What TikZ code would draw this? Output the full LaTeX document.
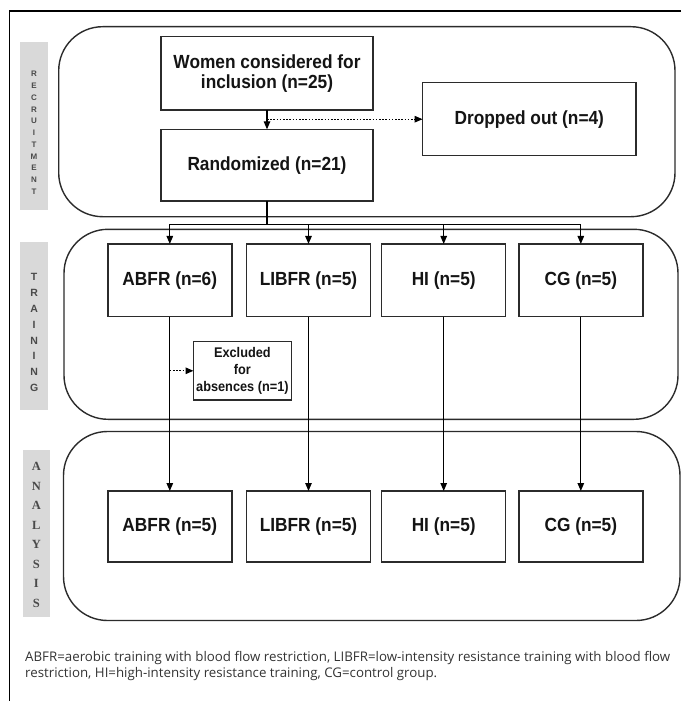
\documentclass[tikz,border=0pt]{standalone}
\usepackage{fontspec}
\setmainfont{Liberation Sans}
\newfontfamily\boxfont[FakeStretch=0.91]{Liberation Sans}
\newfontfamily\capfont{Open Sans}
\newfontfamily\serifbold{Liberation Serif}
\usetikzlibrary{arrows.meta}
\definecolor{barfill}{HTML}{D9D9D9}
\definecolor{lett}{HTML}{4A4A4A}
\definecolor{edge}{HTML}{2B2B2B}
\definecolor{captxt}{HTML}{333333}
\tikzset{
  grp/.style={draw=edge, line width=1.4pt, rounded corners=44pt, inner sep=0pt, outer sep=0pt},
  box/.style={draw=edge, line width=1.5pt, fill=white, inner sep=0pt, outer sep=0pt, align=center,
    text=black!92, font=\boxfont\bfseries\fontsize{19}{20}\selectfont},
  smallbox/.style={box, font=\boxfont\bfseries\fontsize{14}{17}\selectfont},
  tbox/.style={box, minimum width=124pt, minimum height=72.7pt},
  abox/.style={box, minimum width=124pt, minimum height=71pt},
  barnode/.style={fill=barfill, inner sep=0pt, outer sep=0pt},
  letters/.style={text=lett, align=center, inner sep=0pt},
  arr/.style={-{Triangle[length=8pt,width=6.5pt]}, line width=1.2pt, draw=black},
  dotarr/.style={-{Triangle[length=8pt,width=6.5pt]}, line width=1.2pt, draw=black, dash pattern=on 1.6pt off 1.6pt},
  plainline/.style={line width=1.2pt, draw=black},
  captext/.style={text=captxt, anchor=base west, inner sep=0pt, font=\capfont\fontsize{13.3}{15}\selectfont}
}
\begin{document}
\begin{tikzpicture}[x=1pt,y=-1pt]
\useasboundingbox (0,0) rectangle (681,701);
% outer frame
\draw[line width=1.2pt] (681,11) -- (9.6,11) -- (9.6,701);

% side label bars
\node[barnode, minimum width=27.1pt, minimum height=168.3pt] (barR) at (34,125.85) {};
\node[letters, font=\bfseries\fontsize{8}{11.75}\selectfont] (lblR) at (34,132.9)
  {R\\E\\C\\R\\U\\I\\T\\M\\E\\N\\T};
\node[barnode, minimum width=27.4pt, minimum height=168.3pt] (barT) at (34.1,325.85) {};
\node[letters, font=\bfseries\fontsize{10.5}{15.9}\selectfont] (lblT) at (34.1,332.5)
  {T\\R\\A\\I\\N\\I\\N\\G};
\node[barnode, minimum width=27.3pt, minimum height=166.7pt] (barA) at (36.35,533.35) {};
\node[letters, font=\serifbold\bfseries\fontsize{12.5}{19.5}\selectfont] (lblA) at (36.35,534.8)
  {A\\N\\A\\L\\Y\\S\\I\\S};

% phase groups
\node[grp, minimum width=616.3pt, minimum height=190pt] (recruit) at (366.85,121.7) {};
\node[grp, minimum width=614pt, minimum height=190pt] (training) at (371,324.3) {};
\node[grp, minimum width=616.5pt, minimum height=189pt] (analysis) at (371.75,526) {};

% recruitment boxes
\node[box, minimum width=212pt, minimum height=73.3pt] (women) at (267,73.3)
  {Women considered for\\inclusion (n=25)};
\node[box, minimum width=213.4pt, minimum height=73pt] (drop) at (529.3,119.2)
  {Dropped out (n=4)};
\node[box, minimum width=212pt, minimum height=71.7pt] (rand) at (267,165.2)
  {Randomized (n=21)};

% training boxes
\node[tbox] (t1) at (169.8,280.3) {ABFR (n=6)};
\node[tbox] (t2) at (308.5,280.3) {LIBFR (n=5)};
\node[tbox] (t3) at (443.7,280.3) {HI (n=5)};
\node[tbox] (t4) at (580.8,280.3) {CG (n=5)};
\node[smallbox, minimum width=97.8pt, minimum height=58.3pt] (exc) at (242.4,370.8)
  {Excluded\\for\\absences (n=1)};

% analysis boxes
\node[abox] (a1) at (169.8,526.5) {ABFR (n=5)};
\node[abox] (a2) at (308.5,526.5) {LIBFR (n=5)};
\node[abox] (a3) at (443.7,526.5) {HI (n=5)};
\node[abox] (a4) at (580.8,526.5) {CG (n=5)};

% connectors
\draw[arr] (women.south) -- (rand.north);
\coordinate (dstart) at (women.south |- drop.west);
\draw[dotarr] (dstart) -- (drop.west);

\coordinate (br) at (267,224.3);
\draw[plainline] (rand.south) -- (br);
\draw[plainline] (t1.north |- br) -- (t4.north |- br);
\foreach \t in {t1,t2,t3,t4}{
  \draw[arr] (\t.north |- br) -- (\t.north);
}
\draw[arr] (t1.south) -- (a1.north);
\draw[arr] (t2.south) -- (a2.north);
\draw[arr] (t3.south) -- (a3.north);
\draw[arr] (t4.south) -- (a4.north);
\coordinate (estart) at (t1.south |- exc.west);
\draw[dotarr] (estart) -- (exc.west);

% caption
\node[captext] (cap1) at (25,661)
  {ABFR=aerobic training with blood flow restriction, LIBFR=low-intensity resistance training with blood flow};
\node[captext] (cap2) at (25,677)
  {restriction, HI=high-intensity resistance training, CG=control group.};
\end{tikzpicture}
\end{document}
